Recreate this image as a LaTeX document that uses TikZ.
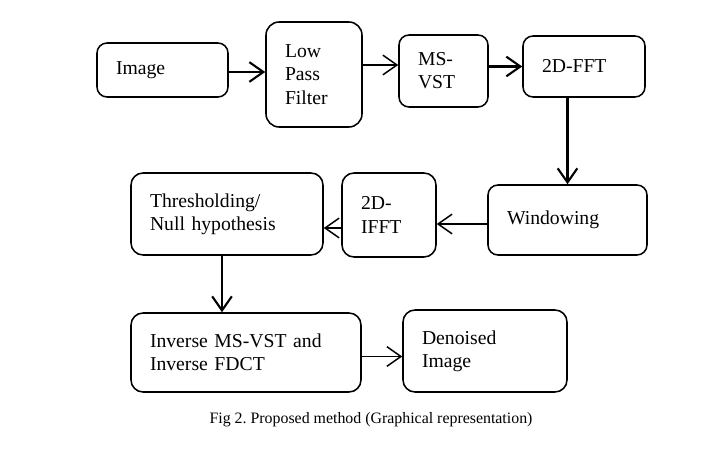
\documentclass[tikz,border=0pt]{standalone}
\usepackage{fontspec}
\setmainfont{Liberation Serif}
\usetikzlibrary{arrows.meta,calc}
\frenchspacing

\begin{document}
\begin{tikzpicture}[
    blk/.style 2 args={rectangle, draw, line width=1.1pt, rounded corners=0.25cm,
                align=left, inner xsep=0.475cm, inner ysep=0pt,
                text width=#1, minimum height=#2,
                font=\fontsize{14}{16.5}\selectfont},
    flow/.style={-{Straight Barb[length=10pt,width=14pt]}, line width=1.05pt},
    bigflow/.style={flow, line width=1.5pt}
]
    \useasboundingbox (0,0) rectangle (17.9,11.2);

    % Top row
    \node[blk={2.325cm}{1.35cm}]  (img)   at (4.0625, 9.45)   {Image};
    \node[blk={1.45cm}{2.625cm}, rounded corners=0.33cm]
                                  (lpf)   at (7.85,  9.3375)  {Low\\Pass\\Filter};
    \node[blk={1.275cm}{1.8cm}]   (msvst) at (11.0875, 9.425) {MS-\\VST};
    \node[blk={2.1cm}{1.525cm}]   (fft)   at (14.6,  9.5375)  {2D-FFT};

    % Middle row
    \node[blk={3.025cm}{1.75cm}]  (win)   at (14.1875, 5.7)   {Windowing};
    \node[blk={1.4cm}{2.1cm}, rounded corners=0.3cm]
                                  (ifft)  at (9.725, 5.825)   {2D-\\IFFT};
    \node[blk={3.85cm}{2.05cm}, rounded corners=0.3cm]
                                  (thr)   at (5.675, 5.85)    {Thresholding/\\Null hypothesis};

    % Bottom row
    \node[blk={4.8cm}{1.975cm}, rounded corners=0.3cm]
                                  (inv)   at (6.15,  2.3875)  {Inverse MS-VST and\\Inverse FDCT};
    \node[blk={3.15cm}{2.05cm}, rounded corners=0.3cm]
                                  (den)   at (12.125, 2.425)  {Denoised\\Image};

    % Caption
    \node[anchor=base, font=\fontsize{11.3}{13}\selectfont] (cap) at (9.275, 0.625)
        {Fig 2. Proposed method (Graphical representation)};

    % Arrows
    \draw[bigflow] ([yshift=-0.05cm]img.east) -- ([yshift=-0.05cm]img.east -| lpf.west);
    \draw[flow] ([yshift=0.15cm]msvst.west -| lpf.east) -- ([yshift=0.15cm]msvst.west);
    \draw[bigflow] (msvst.east |- fft.west) -- (fft.west);
    \draw[bigflow] (fft.south -| win.north) -- (win.north);
    \draw[flow] ([yshift=-0.1cm]win.west) -- ([yshift=-0.1cm]win.west -| ifft.east);
    \draw[flow] ([yshift=-0.325cm]ifft.west) -- ([yshift=-0.325cm]ifft.west -| thr.east);
    \draw[bigflow] ([xshift=-0.125cm]thr.south) -- ([xshift=-0.125cm]thr.south |- inv.north);
    \draw[flow] ([yshift=-0.1cm]inv.east) -- ([yshift=-0.1cm]inv.east -| den.west);

\end{tikzpicture}
\end{document}
